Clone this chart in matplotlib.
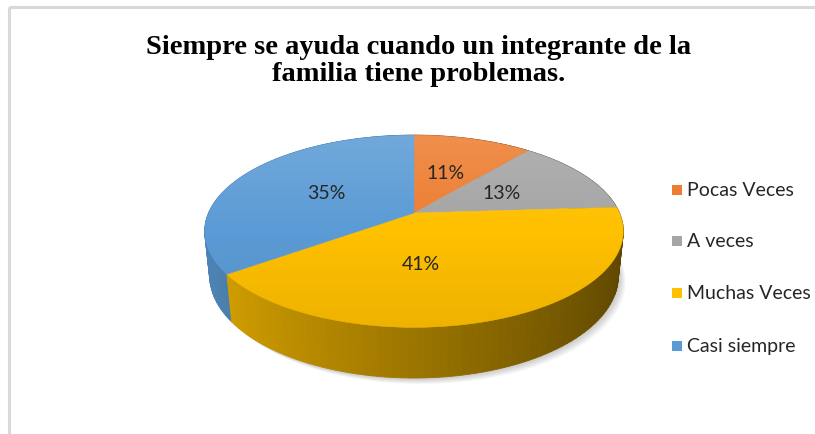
import numpy as np
import matplotlib
matplotlib.use("Agg")
import matplotlib.pyplot as plt
from matplotlib.patches import Polygon, Rectangle

# data
categories = ["Pocas Veces", "A veces", "Muchas Veces", "Casi siempre"]
values = [11, 13, 41, 35]
colors = ["#ED7D31", "#A5A5A5", "#FFC000", "#5B9BD5"]
title = "Siempre se ayuda cuando un integrante de la\nfamilia tiene problemas."

# 3D pie geometry (pixels)
cx, cy = 414, 214
focal = 968.0
dist = 4.71
phi = np.radians(26.8)
depth = 0.245


def proj(theta, r=1.0, hgt=0.0):
    # theta clockwise from the back (12 o'clock)
    X = r * np.sin(theta)
    D = r * np.cos(theta)
    yc = hgt * np.cos(phi) + D * np.sin(phi)
    zc = dist + D * np.cos(phi) - hgt * np.sin(phi)
    return cx + focal * X / zc, cy - focal * yc / zc


def rgb(c):
    return np.array(matplotlib.colors.to_rgb(c))


fig = plt.figure(figsize=(8.15, 4.35), dpi=100)
ax = fig.add_axes([0, 0, 1, 1])
ax.set_xlim(0, 815)
ax.set_ylim(435, 0)
ax.axis("off")

# frame
ax.add_patch(Rectangle((9, 8), 900, 500, fill=False, ec="#D9D9D9", lw=2.2))

fracs = np.array(values) / sum(values)
bounds = np.concatenate([[0], np.cumsum(fracs)]) * 2 * np.pi

# soft shadow under the pie
tt = np.linspace(0, 2 * np.pi, 300)
bx, by = proj(tt, 1.0, -depth)
for k in range(1, 7):
    ax.add_patch(Polygon(np.c_[bx + 1.2 * k, by + 1.0 * k], closed=True,
                         fc="black", ec="none", alpha=0.035, zorder=1))

# side wall, drawn back to front
segs = []
for i in range(len(values)):
    th = np.linspace(bounds[i], bounds[i + 1], int(200 * fracs[i]) + 3)
    for a, b in zip(th[:-1], th[1:]):
        segs.append((-np.cos((a + b) / 2), a, b, i))
segs.sort()
for _, a, b, i in segs:
    mid = (a + b) / 2
    shade = 0.61 - 0.25 * np.sin(mid)
    col = np.clip(rgb(colors[i]) * shade, 0, 1)
    x1, y1 = proj(a)
    x2, y2 = proj(b)
    x3, y3 = proj(b, 1.0, -depth)
    x4, y4 = proj(a, 1.0, -depth)
    ax.add_patch(Polygon([[x1, y1], [x2, y2], [x3, y3], [x4, y4]], closed=True,
                         fc=col, ec=col, lw=0.6, zorder=2))

# top face
for i in range(len(values)):
    th = np.linspace(bounds[i], bounds[i + 1], 100)
    px, py = proj(th)
    pts = np.vstack([[cx, cy], np.c_[px, py]])
    ax.add_patch(Polygon(pts, closed=True, fc=colors[i], ec=colors[i], lw=0.3, zorder=3))

# light gradient over the top face
tx, ty = proj(tt)
clip = Polygon(np.c_[tx, ty], closed=True, transform=ax.transData, fc="none", ec="none")
ax.add_patch(clip)
g = np.linspace(0, 1, 256)[:, None]
grad = np.zeros((256, 2, 4))
grad[..., :3] = np.where(g < 0.5, 1.0, 0.0)[..., None]
grad[..., 3] = np.where(g < 0.5, 0.14 * (1 - g / 0.5), 0.07 * (g - 0.5) / 0.5)
im = ax.imshow(grad, extent=(tx.min(), tx.max(), ty.max(), ty.min()),
               aspect="auto", zorder=4, interpolation="bilinear")
im.set_clip_path(clip)
ax.set_xlim(0, 815)
ax.set_ylim(435, 0)

# percentage labels
label_shift = {2: (-31, 3)}
for i in range(len(values)):
    mid = (bounds[i] + bounds[i + 1]) / 2
    lx, ly = proj(mid, 0.5)
    dx, dy = label_shift.get(i, (0, 0))
    ax.text(lx + dx, ly + dy, f"{values[i]}%", ha="center", va="center",
            fontsize=14, family="Lato", color="#262626", zorder=5)

# title
ax.text(419, 61, title, ha="center", va="center", fontsize=20.5,
        family="Liberation Serif", weight="bold", linespacing=1.1, color="black")

# legend
leg_y = [191, 242, 294, 347]
for i, name in enumerate(categories):
    ax.add_patch(Rectangle((672, leg_y[i] - 5), 10, 10, fc=colors[i], ec="none"))
    ax.text(687, leg_y[i], name, ha="left", va="center", fontsize=14,
            family="Lato", color="#262626")

fig.savefig("out.png", dpi=100)
